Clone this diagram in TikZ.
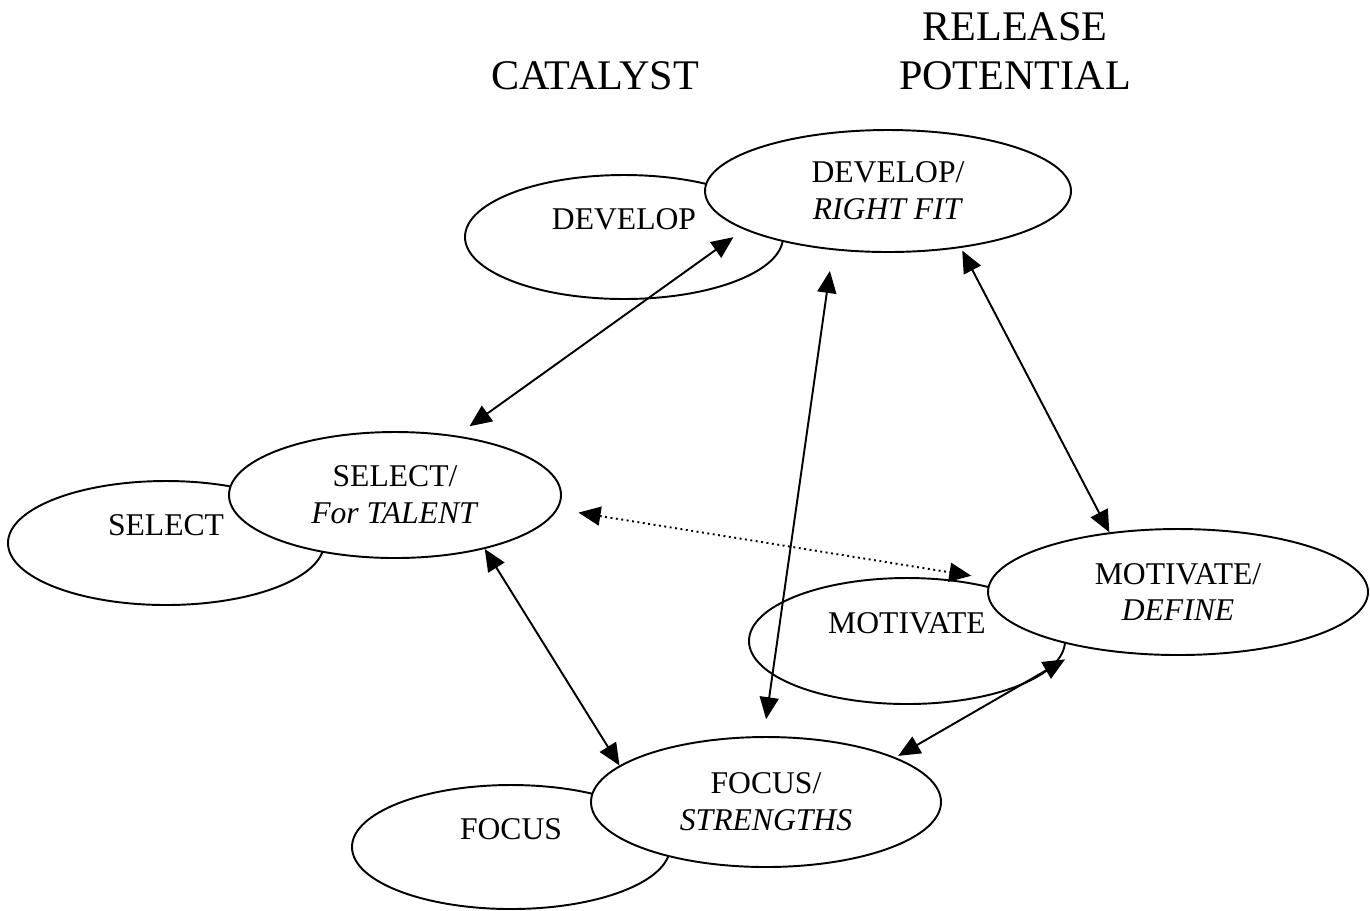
\documentclass[tikz,border=0pt]{standalone}
\usepackage{fontspec}
\setmainfont{Liberation Serif}
\usetikzlibrary{shapes.geometric,arrows.meta}

\begin{document}
\begin{tikzpicture}[x=0.1mm,y=-0.1mm,line width=0.55pt,
	backell/.style={draw,ellipse,inner sep=0pt,text depth=10pt,font=\fontsize{9}{10.5}\selectfont},
	frontell/.style={draw,ellipse,fill=white,inner sep=0pt,align=center,font=\fontsize{9}{10.5}\selectfont},
	title/.style={align=center,font=\fontsize{12}{13.9}\selectfont},
	link/.style={{Triangle[length=2.2mm,width=1.9mm]}-{Triangle[length=2.2mm,width=1.9mm]}}]
	
	\useasboundingbox (0,0) rectangle (1370,910);
	
	% Define the headings
	\node[title] (catalyst) at (595,76) {CATALYST};
	\node[title] (release) at (1015,51) {RELEASE\\POTENTIAL};
	
	% Draw the plain ellipses behind
	\node[backell,minimum width=3.18cm,minimum height=1.24cm] (dev) at (624,237) {DEVELOP};
	\node[backell,minimum width=3.16cm,minimum height=1.24cm] (sel) at (166,543) {SELECT};
	\node[backell,minimum width=3.16cm,minimum height=1.26cm] (mot) at (907,641) {MOTIVATE};
	\node[backell,minimum width=3.18cm,minimum height=1.24cm] (foc) at (511,847) {FOCUS};
	
	% Draw the ellipses in front
	\node[frontell,minimum width=3.66cm,minimum height=1.22cm] (dr) at (888,191) {DEVELOP/\\\textit{RIGHT FIT}};
	\node[frontell,minimum width=3.32cm,minimum height=1.26cm] (st) at (395,495) {SELECT/\\\textit{For TALENT}};
	\node[frontell,minimum width=3.80cm,minimum height=1.26cm] (md) at (1178,592) {MOTIVATE/\\\textit{DEFINE}};
	\node[frontell,minimum width=3.50cm,minimum height=1.30cm] (fs) at (766,802) {FOCUS/\\\textit{STRENGTHS}};
	
	% Connect the ellipses
	\draw[link,shorten <=1.3mm,shorten >=1.6mm] (dr.195) -- (st.44);
	\draw[link,shorten <=2.1mm,shorten >=1.7mm] (dr.227) -- (fs.92);
	\draw[link,shorten <=0.3mm] (dr.322) -- (md.139);
	\draw[link,densely dotted,shorten <=2.1mm,shorten >=2mm] (st.355) -- (md.176);
	\draw[link] (st.329) -- (fs.166);
	\draw[link,shorten <=2.3mm,shorten >=0.3mm] (md.211) -- (fs.19);
	
\end{tikzpicture}
\end{document}
